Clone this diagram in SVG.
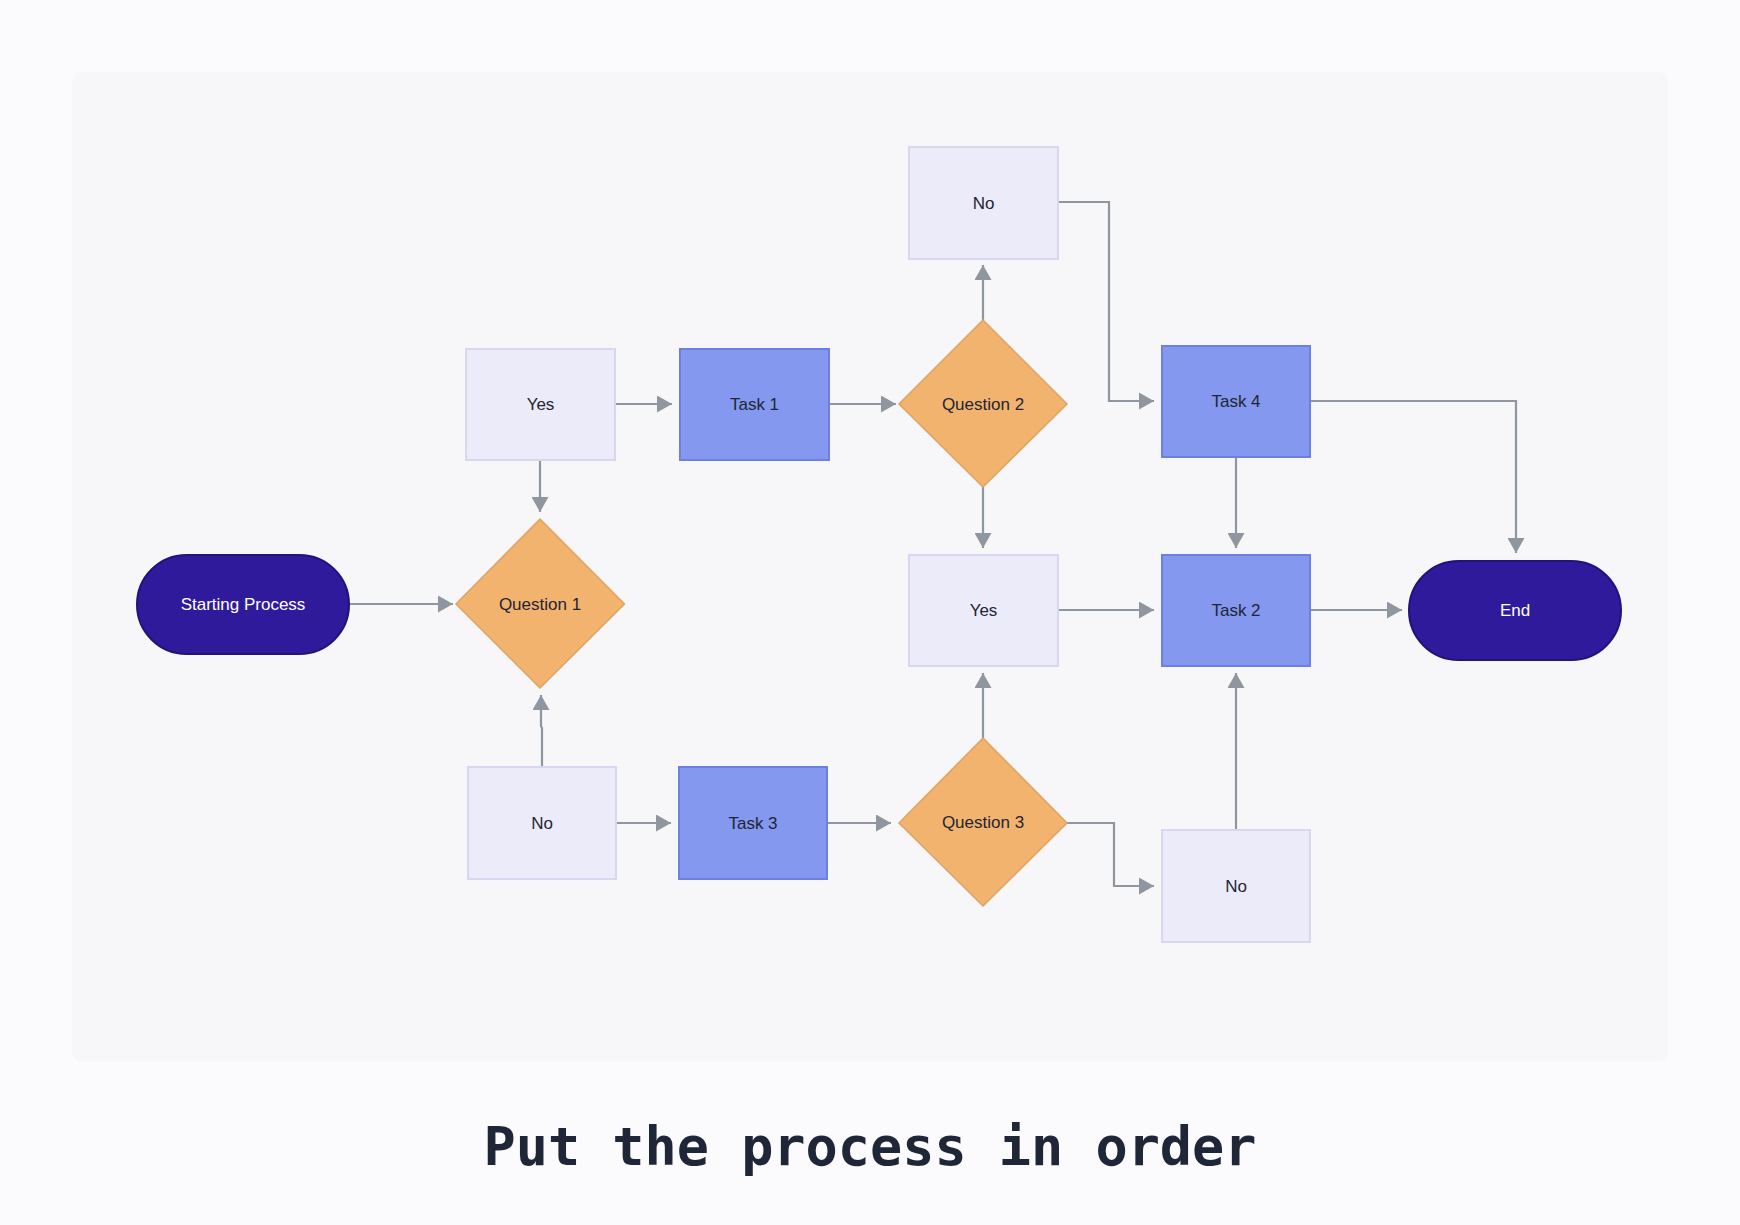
<svg xmlns="http://www.w3.org/2000/svg" width="1740" height="1225" viewBox="0 0 1740 1225">
<defs>
<style>
.lt{fill:#ecebfa;stroke:#d9d7f0;stroke-width:2}
.tk{fill:#8398ee;stroke:#6c80e2;stroke-width:2}
.dm{fill:#f2b36f;stroke:#e2a261;stroke-width:1.5}
.pl{fill:#2f1a9b;stroke:#22127c;stroke-width:2}
.t{font-family:"Liberation Sans",Arial,sans-serif;font-size:17px;fill:#1f2533;text-anchor:middle;dominant-baseline:central}
.tw{fill:#ffffff}
.c{fill:none;stroke:#8f969f;stroke-width:2.2;marker-end:url(#ah)}
.title{font-family:"DejaVu Sans Mono","Liberation Mono",monospace;font-weight:bold;font-size:53.5px;fill:#1e2638;text-anchor:middle}
</style>
<marker id="ah" viewBox="0 0 15 17" refX="15" refY="8.5" markerWidth="15" markerHeight="17" markerUnits="userSpaceOnUse" orient="auto">
<path d="M0,0 L15,8.5 L0,17 Z" fill="#8f969f"/>
</marker>
</defs>
<rect x="0" y="0" width="1740" height="1225" fill="#fbfbfd"/>
<rect x="72" y="72" width="1596" height="990" rx="10" fill="#f7f7f9"/>

<g id="connectors">
<path class="c" d="M349,604 L453,604"/>
<path class="c" d="M540,460 L540,512"/>
<path class="c" d="M615,404 L672,404"/>
<path class="c" d="M829,404 L896,404"/>
<path class="c" d="M983,320 L983,265"/>
<path class="c" d="M1058,202 L1109,202 L1109,401 L1154,401"/>
<path class="c" d="M1310,401 L1516,401 L1516,553"/>
<path class="c" d="M1236,457 L1236,548"/>
<path class="c" d="M983,487 L983,548"/>
<path class="c" d="M1058,610 L1154,610"/>
<path class="c" d="M1310,610 L1402,610"/>
<path class="c" d="M542,767 L542,728 L541,726 L541,695"/>
<path class="c" d="M616,823 L671,823"/>
<path class="c" d="M827,823 L891,823"/>
<path class="c" d="M983,738 L983,673"/>
<path class="c" d="M1067,823 L1114,823 L1114,886 L1154,886"/>
<path class="c" d="M1236,830 L1236,673"/>
</g>

<g id="start"><rect class="pl" x="137" y="555" width="212" height="99" rx="49.5"/><text class="t tw" x="243" y="604">Starting Process</text></g>
<g id="q1"><polygon class="dm" points="540,519 624.5,604 540,688 456,604"/><text class="t" x="540" y="604">Question 1</text></g>
<g id="yes1"><rect class="lt" x="466" y="349" width="149" height="111"/><text class="t" x="540.5" y="404">Yes</text></g>
<g id="task1"><rect class="tk" x="680" y="349" width="149" height="111"/><text class="t" x="754.5" y="404">Task 1</text></g>
<g id="q2"><polygon class="dm" points="983,320 1067,404 983,487 899,404"/><text class="t" x="983" y="404">Question 2</text></g>
<g id="no2"><rect class="lt" x="909" y="147" width="149" height="112"/><text class="t" x="983.5" y="203">No</text></g>
<g id="task4"><rect class="tk" x="1162" y="346" width="148" height="111"/><text class="t" x="1236" y="401">Task 4</text></g>
<g id="yes2"><rect class="lt" x="909" y="555" width="149" height="111"/><text class="t" x="983.5" y="610">Yes</text></g>
<g id="task2"><rect class="tk" x="1162" y="555" width="148" height="111"/><text class="t" x="1236" y="610">Task 2</text></g>
<g id="end"><rect class="pl" x="1409" y="561" width="212" height="99" rx="49.5"/><text class="t tw" x="1515" y="610.5">End</text></g>
<g id="no1"><rect class="lt" x="468" y="767" width="148" height="112"/><text class="t" x="542" y="823">No</text></g>
<g id="task3"><rect class="tk" x="679" y="767" width="148" height="112"/><text class="t" x="753" y="823">Task 3</text></g>
<g id="q3"><polygon class="dm" points="983,738 1067,823 983,906 899,823"/><text class="t" x="983" y="822">Question 3</text></g>
<g id="no3"><rect class="lt" x="1162" y="830" width="148" height="112"/><text class="t" x="1236" y="886">No</text></g>

<text class="title" x="870" y="1165">Put the process in order</text>
</svg>
